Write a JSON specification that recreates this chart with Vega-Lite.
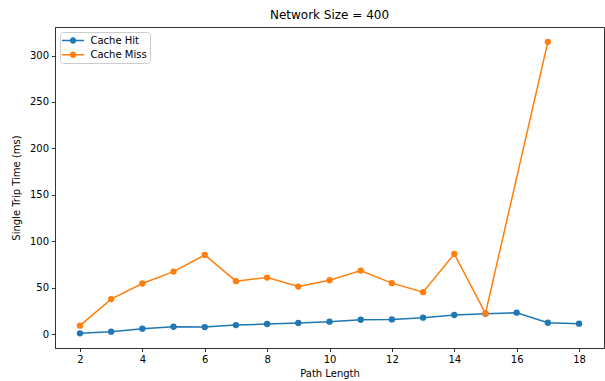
{
  "$schema": "https://vega.github.io/schema/vega-lite/v6.json",
  "width": 549,
  "height": 321,
  "autosize": "none",
  "padding": {"left": 55, "top": 27, "right": 1, "bottom": 33},
  "background": "white",
  "title": {"text": "Network Size = 400", "font": "DejaVu Sans", "fontSize": 12, "fontWeight": "normal", "color": "#000000", "offset": 5, "anchor": "middle"},
  "config": {
    "font": "DejaVu Sans",
    "view": {"stroke": "#333333", "strokeWidth": 1},
    "axis": {"grid": false, "domainColor": "#333333", "tickColor": "#333333", "tickSize": 3.5, "labelFontSize": 10, "labelColor": "#000000", "labelPadding": 3, "titleFontSize": 10, "titleFontWeight": "normal", "titleColor": "#000000", "labelFont": "DejaVu Sans", "titleFont": "DejaVu Sans"}
  },
  "data": {"values": [
    {"x": 2, "t": 1.1, "s": "Cache Hit"},
    {"x": 3, "t": 2.9, "s": "Cache Hit"},
    {"x": 4, "t": 6.1, "s": "Cache Hit"},
    {"x": 5, "t": 8.2, "s": "Cache Hit"},
    {"x": 6, "t": 7.8, "s": "Cache Hit"},
    {"x": 7, "t": 10.0, "s": "Cache Hit"},
    {"x": 8, "t": 11.1, "s": "Cache Hit"},
    {"x": 9, "t": 12.2, "s": "Cache Hit"},
    {"x": 10, "t": 13.6, "s": "Cache Hit"},
    {"x": 11, "t": 15.7, "s": "Cache Hit"},
    {"x": 12, "t": 16.1, "s": "Cache Hit"},
    {"x": 13, "t": 17.9, "s": "Cache Hit"},
    {"x": 14, "t": 20.8, "s": "Cache Hit"},
    {"x": 15, "t": 22.2, "s": "Cache Hit"},
    {"x": 16, "t": 23.3, "s": "Cache Hit"},
    {"x": 17, "t": 12.5, "s": "Cache Hit"},
    {"x": 18, "t": 11.5, "s": "Cache Hit"},
    {"x": 2, "t": 9.3, "s": "Cache Miss"},
    {"x": 3, "t": 37.9, "s": "Cache Miss"},
    {"x": 4, "t": 54.7, "s": "Cache Miss"},
    {"x": 5, "t": 67.5, "s": "Cache Miss"},
    {"x": 6, "t": 85.4, "s": "Cache Miss"},
    {"x": 7, "t": 57.2, "s": "Cache Miss"},
    {"x": 8, "t": 61.1, "s": "Cache Miss"},
    {"x": 9, "t": 51.4, "s": "Cache Miss"},
    {"x": 10, "t": 58.3, "s": "Cache Miss"},
    {"x": 11, "t": 68.6, "s": "Cache Miss"},
    {"x": 12, "t": 55.1, "s": "Cache Miss"},
    {"x": 13, "t": 45.4, "s": "Cache Miss"},
    {"x": 14, "t": 86.5, "s": "Cache Miss"},
    {"x": 15, "t": 22.5, "s": "Cache Miss"},
    {"x": 17, "t": 314.7, "s": "Cache Miss"}
  ]},
  "mark": {"type": "line", "strokeWidth": 1.5, "point": {"filled": true, "size": 40, "opacity": 1}},
  "encoding": {
    "x": {"field": "x", "type": "quantitative", "title": "Path Length",
      "scale": {"domain": [1.2, 18.8], "nice": false, "zero": false},
      "axis": {"values": [2, 4, 6, 8, 10, 12, 14, 16, 18], "titlePadding": 4}},
    "y": {"field": "t", "type": "quantitative", "title": "Single Trip Time (ms)",
      "scale": {"domain": [-14.7, 330.7], "nice": false, "zero": false},
      "axis": {"values": [0, 50, 100, 150, 200, 250, 300], "titlePadding": 8}},
    "color": {"field": "s", "type": "nominal", "title": null,
      "scale": {"domain": ["Cache Hit", "Cache Miss"], "range": ["#1f77b4", "#ff7f0e"]},
      "legend": {"orient": "top-left", "offset": 5, "padding": 3, "strokeColor": "#cccccc", "fillColor": "white", "cornerRadius": 3,
        "symbolType": "M-2,-0.14H2V0.14H-2Z M0.58,0A0.58,0.58 0 1,1 -0.58,0A0.58,0.58 0 1,1 0.58,0Z",
        "symbolSize": 121, "symbolStrokeWidth": 0, "symbolOpacity": 1, "labelFontSize": 10, "labelColor": "#000000", "rowPadding": 3.3, "symbolOffset": 4.5, "labelOffset": 12}}
  }
}
